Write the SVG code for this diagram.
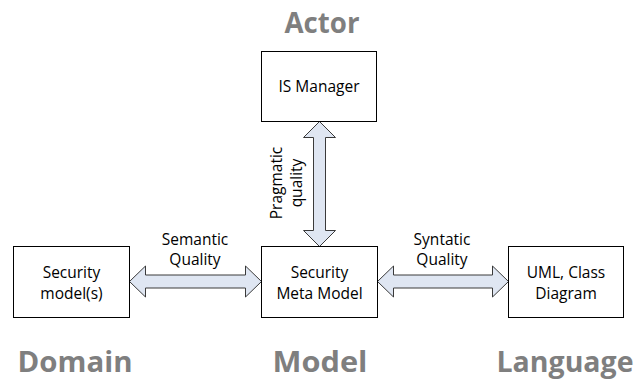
<svg xmlns="http://www.w3.org/2000/svg" width="636" height="383" viewBox="0 0 636 383">
  <style>
    .box { fill: #ffffff; stroke: #000000; stroke-width: 1; }
    .lbl { font-family: "Open Sans", "Liberation Sans", sans-serif; font-size: 15.5px; fill: #000000; text-anchor: middle; }
    .big { font-family: "Open Sans", "Liberation Sans", sans-serif; font-size: 29px; font-weight: bold; fill: #7f7f7f; text-anchor: middle; }
    .arrow { fill: #dfe6f2; stroke: #3a3a3a; stroke-width: 1; stroke-linejoin: miter; }
  </style>
  <rect width="636" height="383" fill="#ffffff"/>

  <!-- category headings -->
  <text class="big" x="322" y="33" textLength="75" lengthAdjust="spacingAndGlyphs">Actor</text>
  <text class="big" x="75" y="372" textLength="115" lengthAdjust="spacingAndGlyphs">Domain</text>
  <text class="big" x="320" y="372" textLength="95" lengthAdjust="spacingAndGlyphs">Model</text>
  <text class="big" x="565" y="372" textLength="137" lengthAdjust="spacingAndGlyphs">Language</text>

  <!-- connectors: double-headed block arrows -->
  <g id="connectors">
    <!-- IS Manager <-> Security Meta Model -->
    <path class="arrow" d="M319.5,121.5 L335.5,137.5 L325.5,137.5 L325.5,230.5 L335.5,230.5 L319.5,246.5 L303.5,230.5 L313.5,230.5 L313.5,137.5 L303.5,137.5 Z"/>
    <!-- Security model(s) <-> Security Meta Model -->
    <path class="arrow" d="M129.5,281.5 L145.5,266 L145.5,275 L245.5,275 L245.5,266 L261.5,281.5 L245.5,297 L245.5,288 L145.5,288 L145.5,297 Z"/>
    <!-- Security Meta Model <-> UML, Class Diagram -->
    <path class="arrow" d="M377.5,281.5 L393.5,266 L393.5,275 L492.5,275 L492.5,266 L508.5,281.5 L492.5,297 L492.5,288 L393.5,288 L393.5,297 Z"/>
    <text class="lbl" x="195" y="245">Semantic</text>
    <text class="lbl" x="195" y="265">Quality</text>
    <text class="lbl" x="442" y="245">Syntatic</text>
    <text class="lbl" x="442" y="265">Quality</text>
    <text class="lbl" transform="translate(0,183) rotate(-90)" x="0" y="282">Pragmatic</text>
    <text class="lbl" transform="translate(0,183) rotate(-90)" x="0" y="302">quality</text>
  </g>

  <g id="is-manager">
    <rect class="box" x="261.5" y="51.5" width="115" height="70"/>
    <text class="lbl" x="319" y="91.5">IS Manager</text>
  </g>

  <g id="security-models">
    <rect class="box" x="13.5" y="246.5" width="116" height="71"/>
    <text class="lbl" x="71.5" y="277.5">Security</text>
    <text class="lbl" x="71.5" y="299">model(s)</text>
  </g>

  <g id="security-meta-model">
    <rect class="box" x="261.5" y="246.5" width="116" height="71"/>
    <text class="lbl" x="319.5" y="277.5">Security</text>
    <text class="lbl" x="319.5" y="299">Meta Model</text>
  </g>

  <g id="uml-class-diagram">
    <rect class="box" x="508.5" y="246.5" width="115" height="71"/>
    <text class="lbl" x="566" y="277.5">UML, Class</text>
    <text class="lbl" x="566" y="299">Diagram</text>
  </g>
</svg>
